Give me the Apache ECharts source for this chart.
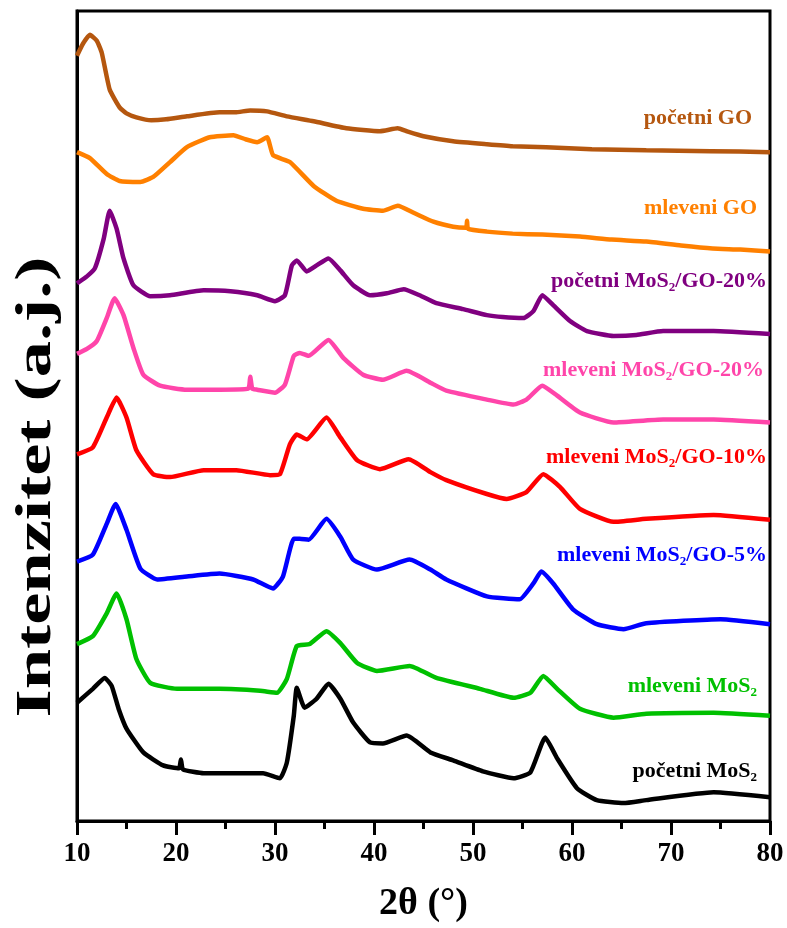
<!DOCTYPE html>
<html>
<head>
<meta charset="utf-8">
<script src="https://cdn.jsdelivr.net/npm/echarts@6/dist/echarts.min.js"></script>
<style>
  html, body { margin: 0; padding: 0; background: #fff; }
  #chart { width: 787px; height: 928px; }
</style>
</head>
<body>
<div id="chart"></div>
<script>
// XRD patterns, 2θ in degrees, intensity in arbitrary units (offset stacked)
const xTicks = [10, 20, 30, 40, 50, 60, 70, 80];

const pocetniGO_x = [10, 10.6, 11.3, 12, 12.5, 13.3, 14.3, 15, 16, 17.5, 19, 21.1, 24.4, 26, 27.5, 29.2, 31.2, 33.9, 37.2, 40.6, 42.4, 43.3, 45, 48, 51.4, 54, 57.4, 62, 67.5, 74, 80];
const pocetniGO_y = [770, 782, 791, 785, 773, 736, 718, 712, 708, 705, 706, 709, 713, 713, 715, 714, 709, 704, 697, 694, 697, 694, 689, 684, 681, 679, 678, 676, 675, 674, 673];

const mleveniGO_x = [10, 11.3, 13, 14.3, 16.4, 17.7, 19.4, 21.1, 23.4, 25.8, 27, 28.2, 29.2, 29.8, 31.5, 33.9, 36.2, 38.9, 40.9, 42.4, 44, 46, 48, 49.3, 49.4, 49.5, 51.4, 54, 57, 60.8, 64, 67.5, 71, 74.2, 77, 80];
const mleveniGO_y = [673, 667, 651, 644, 643, 648, 663, 678, 688, 690, 686, 683, 688, 670, 663, 639, 624, 616, 614, 619, 612, 603, 598, 597, 604, 596, 593, 591, 590, 588, 585, 583, 579, 576, 575, 573];

const pocetniMoS2GO20_x = [10, 11, 11.8, 12.7, 13.3, 14, 14.7, 15.7, 17.4, 19.4, 22.8, 25.5, 28.2, 30, 31, 31.7, 32.2, 33.2, 34.2, 35.4, 36.6, 37.9, 39.6, 41.3, 43, 44.6, 46.3, 49, 51.4, 53, 55.1, 56.1, 57, 58.1, 59.8, 61.5, 64.2, 66.5, 69.2, 74.3, 80];
const pocetniMoS2GO20_y = [541, 548, 556, 586, 614, 596, 566, 539, 528, 529, 534, 533, 529, 523, 529, 559, 564, 553, 559, 566, 554, 539, 529, 531, 535, 529, 521, 515, 509, 507, 506, 513, 529, 519, 503, 493, 488, 489, 493, 493, 490];

const mleveniMoS2GO20_x = [10, 11, 12, 13, 13.8, 14.7, 15.7, 16.7, 18.4, 21.1, 24.4, 27.3, 27.5, 27.7, 28.2, 30, 31, 31.9, 32.5, 33.4, 35.4, 36.9, 38.9, 40.9, 43.3, 45.7, 47.3, 51.4, 54.1, 55.4, 57, 58.5, 60.8, 64.2, 69.2, 74.3, 80];
const mleveniMoS2GO20_y = [470, 475, 483, 506, 526, 509, 476, 449, 438, 434, 434, 435, 447, 435, 434, 431, 439, 468, 471, 468, 484, 466, 449, 444, 453, 441, 433, 424, 419, 424, 438, 428, 411, 401, 404, 404, 401];

const mleveniMoS2GO10_x = [10, 11.6, 13, 14, 15, 16, 17.7, 19.4, 22.8, 26.1, 29.5, 30.5, 31.5, 32.2, 33.2, 35.2, 36.6, 38.3, 40.6, 43.5, 45.7, 47.3, 51.4, 53.4, 55.4, 57.1, 58.8, 60.8, 64.2, 67.5, 74.3, 80];
const mleveniMoS2GO10_y = [369, 376, 406, 426, 406, 373, 349, 346, 353, 353, 348, 349, 379, 389, 384, 406, 386, 363, 354, 364, 351, 343, 329, 324, 331, 349, 336, 314, 301, 304, 308, 303];

const mleveniMoS2GO5_x = [10, 11.6, 13, 13.9, 15, 16.4, 18.1, 21.1, 24.4, 27.8, 29.8, 30.8, 31.9, 32.5, 33.4, 35.2, 36.6, 37.9, 40.3, 43.6, 45.7, 47.3, 51.4, 54.7, 56.1, 56.9, 58.1, 60.1, 62.5, 65.2, 67.5, 75, 80];
const mleveniMoS2GO5_y = [261, 268, 299, 319, 293, 254, 243, 246, 249, 243, 234, 246, 284, 284, 283, 304, 286, 263, 253, 263, 253, 243, 226, 223, 239, 251, 239, 213, 198, 193, 199, 203, 198];

const mleveniMoS2_x = [10, 11.6, 13, 14, 15, 16, 17.4, 20.1, 24.4, 28.5, 30.2, 31.2, 32.2, 33.5, 35.2, 36.6, 38.3, 40.3, 43.6, 46.3, 50.7, 54.1, 55.8, 57.1, 58.5, 60.8, 64.2, 67.5, 74.3, 80];
const mleveniMoS2_y = [178, 186, 209, 229, 203, 163, 139, 133, 133, 131, 129, 143, 176, 178, 191, 179, 159, 151, 156, 144, 133, 124, 129, 146, 133, 113, 104, 108, 109, 106];

const pocetniMoS2_x = [10, 11.6, 12.8, 13.5, 14.2, 15, 16.7, 18.7, 20.3, 20.5, 20.7, 22.8, 26.1, 28.8, 30.5, 31.2, 31.9, 32.2, 33, 34.2, 35.4, 36.6, 37.9, 39.6, 40.9, 43.3, 45.7, 48, 51, 54.1, 55.8, 57.3, 58.5, 60.5, 62.5, 65.2, 67.5, 74.3, 80];
const pocetniMoS2_y = [119, 133, 144, 136, 113, 93, 69, 56, 53, 62, 52, 48, 48, 48, 43, 59, 106, 134, 114, 123, 138, 123, 99, 79, 78, 86, 69, 61, 50, 43, 49, 84, 63, 33, 21, 18, 21, 29, 24];

const seriesDefs = [
  { name: 'početni GO', x: pocetniGO_x, y: pocetniGO_y, color: '#B5570F' },
  { name: 'mleveni GO', x: mleveniGO_x, y: mleveniGO_y, color: '#FF8000' },
  { name: 'početni MoS2/GO-20%', x: pocetniMoS2GO20_x, y: pocetniMoS2GO20_y, color: '#800080' },
  { name: 'mleveni MoS2/GO-20%', x: mleveniMoS2GO20_x, y: mleveniMoS2GO20_y, color: '#FF45AA' },
  { name: 'mleveni MoS2/GO-10%', x: mleveniMoS2GO10_x, y: mleveniMoS2GO10_y, color: '#FF0000' },
  { name: 'mleveni MoS2/GO-5%', x: mleveniMoS2GO5_x, y: mleveniMoS2GO5_y, color: '#0000FF' },
  { name: 'mleveni MoS2', x: mleveniMoS2_x, y: mleveniMoS2_y, color: '#00C000' },
  { name: 'početni MoS2', x: pocetniMoS2_x, y: pocetniMoS2_y, color: '#000000' }
];

// curve captions, right-aligned next to each pattern; {s|2} is a subscript
const captions = [
  { text: '{m|početni GO}', right: 752, y: 118, color: '#B5570F' },
  { text: '{m|mleveni GO}', right: 757, y: 208, color: '#FF8000' },
  { text: '{m|početni MoS}{s|2}{m|/GO-20%}', right: 767, y: 281, color: '#800080' },
  { text: '{m|mleveni MoS}{s|2}{m|/GO-20%}', right: 764, y: 370, color: '#FF45AA' },
  { text: '{m|mleveni MoS}{s|2}{m|/GO-10%}', right: 767, y: 457, color: '#FF0000' },
  { text: '{m|mleveni MoS}{s|2}{m|/GO-5%}', right: 767, y: 555, color: '#0000FF' },
  { text: '{m|mleveni MoS}{s|2}', right: 757, y: 686, color: '#00C000' },
  { text: '{m|početni MoS}{s|2}', right: 757, y: 771, color: '#000000' }
];

const serif = "'Liberation Serif', 'Times New Roman', serif";

const chart = echarts.init(document.getElementById('chart'), null, { renderer: 'canvas' });

const option = {
  animation: false,
  backgroundColor: '#ffffff',
  grid: {
    left: 77, right: 17, top: 11, bottom: 102,
    show: true, borderColor: '#000', borderWidth: 3, backgroundColor: 'transparent'
  },
  xAxis: {
    type: 'value',
    min: xTicks[0],
    max: xTicks[xTicks.length - 1],
    interval: 10,
    name: '2θ (°)',
    nameLocation: 'middle',
    nameGap: 64,
    nameTextStyle: { fontFamily: serif, fontWeight: 'bold', fontSize: 38, color: '#000' },
    axisLine: { show: true, onZero: false, lineStyle: { color: '#000', width: 3 } },
    axisTick: { show: true, inside: false, length: 14, lineStyle: { color: '#000', width: 3 } },
    minorTick: { show: true, splitNumber: 2, length: 8, lineStyle: { color: '#000', width: 3 } },
    splitLine: { show: false },
    axisLabel: { fontFamily: serif, fontWeight: 'bold', fontSize: 27, color: '#000', margin: 20 }
  },
  yAxis: {
    type: 'value',
    min: 0,
    max: 815,
    axisLine: { show: true, lineStyle: { color: '#000', width: 3 } },
    axisTick: { show: false },
    axisLabel: { show: false },
    splitLine: { show: false }
  },
  series: seriesDefs.map(d => ({
    name: d.name,
    type: 'line',
    data: d.x.map((v, i) => [v, d.y[i]]),
    showSymbol: false,
    smooth: 0.15,
    lineStyle: { color: d.color, width: 4.5 },
    itemStyle: { color: d.color },
    z: 2
  })),
  graphic: [
    {
      type: 'text',
      x: 37, y: 487,
      rotation: Math.PI / 2,
      scaleX: 1.45,
      style: {
        text: 'Intenzitet (a.j.)',
        fontFamily: serif, fontWeight: 'bold', fontSize: 50, fill: '#000',
        align: 'center', verticalAlign: 'middle'
      }
    }
  ].concat(captions.map(c => ({
    type: 'text',
    x: c.right, y: c.y,
    style: {
      text: c.text,
      fill: c.color,
      align: 'right', verticalAlign: 'middle',
      rich: {
        m: { fontFamily: serif, fontWeight: 'bold', fontSize: 22, fill: c.color, color: c.color },
        s: { fontFamily: serif, fontWeight: 'bold', fontSize: 13, fill: c.color, color: c.color, padding: [14, 0, 0, 0] }
      }
    }
  })))
};

chart.setOption(option);
</script>
</body>
</html>
